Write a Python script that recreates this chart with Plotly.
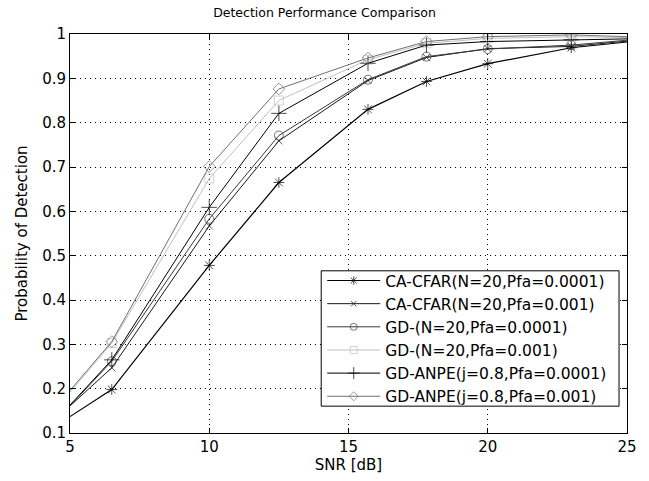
import plotly.graph_objects as go

snr = [5, 6.5, 10, 12.5, 15.7, 17.8, 20, 23, 25]

ca_cfar_1e4 = [0.137, 0.198, 0.478, 0.665, 0.830, 0.893, 0.933, 0.969, 0.982]
ca_cfar_1e3 = [0.161, 0.247, 0.567, 0.759, 0.895, 0.947, 0.967, 0.972, 0.984]
gd_1e4 = [0.161, 0.262, 0.583, 0.771, 0.897, 0.949, 0.966, 0.975, 0.986]
gd_1e3 = [0.192, 0.303, 0.674, 0.850, 0.942, 0.979, 0.990, 0.994, 0.992]
anpe_1e4 = [0.163, 0.265, 0.609, 0.821, 0.934, 0.975, 0.983, 0.987, 0.989]
anpe_1e3 = [0.196, 0.306, 0.701, 0.876, 0.946, 0.983, 0.994, 0.998, 0.994]

names = [
    "CA-CFAR(N=20,Pfa=0.0001)",
    "CA-CFAR(N=20,Pfa=0.001)",
    "GD-(N=20,Pfa=0.0001)",
    "GD-(N=20,Pfa=0.001)",
    "GD-ANPE(j=0.8,Pfa=0.0001)",
    "GD-ANPE(j=0.8,Pfa=0.001)",
]
series = [ca_cfar_1e4, ca_cfar_1e3, gd_1e4, gd_1e3, anpe_1e4, anpe_1e3]
colors = ["#000000", "#1a1a1a", "#3a3a3a", "#c0c0c0", "#000000", "#707070"]
symbols = ["asterisk-open", "x-thin-open", "circle-open", "square-open",
           "cross-thin-open", "diamond-open"]
msizes = [9, 7, 9, 9, 11, 9]
widths = [1.2, 1, 1, 1, 1, 1]

FONT = "DejaVu Sans, Verdana, sans-serif"

fig = go.Figure()
for nm, ys, c, s, ms, w in zip(names, series, colors, symbols, msizes, widths):
    sizes = [0] + [ms] * (len(snr) - 2) + [0]
    fig.add_trace(go.Scatter(
        x=snr, y=ys, name=nm, mode="lines+markers",
        line=dict(color=c, width=w),
        marker=dict(symbol=s, size=sizes, color=c, line=dict(color=c, width=1)),
    ))

axis_common = dict(
    showline=True, linecolor="black", linewidth=1, mirror="ticks",
    ticks="inside", ticklen=5, tickcolor="black",
    showgrid=True, gridcolor="black", gridwidth=1, griddash="1px,4px",
    zeroline=False,
    tickfont=dict(family=FONT, size=15, color="black"),
)

# legend frame (MATLAB-style box), drawn behind the legend entries
fig.add_shape(type="rect", xref="paper", yref="paper",
              x0=0.451, x1=0.9857, y0=0.0673, y1=0.4065,
              fillcolor="white", line=dict(color="black", width=1), layer="above")

fig.update_layout(
    width=649, height=481,
    margin=dict(l=70, r=18, t=34, b=46),
    paper_bgcolor="white", plot_bgcolor="white",
    title=dict(text="Detection Performance Comparison", x=0.5, xanchor="center",
               y=1 - 13 / 481, yanchor="middle",
               font=dict(family=FONT, size=12.5, color="black")),
    xaxis=dict(range=[5, 25], dtick=5, tick0=5,
               title=dict(text="SNR [dB]", standoff=2,
                          font=dict(family=FONT, size=15, color="black")),
               **axis_common),
    yaxis=dict(range=[0.1, 1], dtick=0.1, tick0=0.1, tickformat=".1~f",
               title=dict(text="Probability of Detection", standoff=10,
                          font=dict(family=FONT, size=15, color="black")),
               **axis_common),
    legend=dict(x=0.4528, y=0.237, xanchor="left", yanchor="middle",
                bgcolor="rgba(0,0,0,0)", borderwidth=0,
                font=dict(family=FONT, size=15.5, color="black"),
                tracegroupgap=0, itemwidth=53),
    showlegend=True,
)

fig.write_html("out.html", config={"displayModeBar": False},
               post_script="document.body.style.margin='0px';")
